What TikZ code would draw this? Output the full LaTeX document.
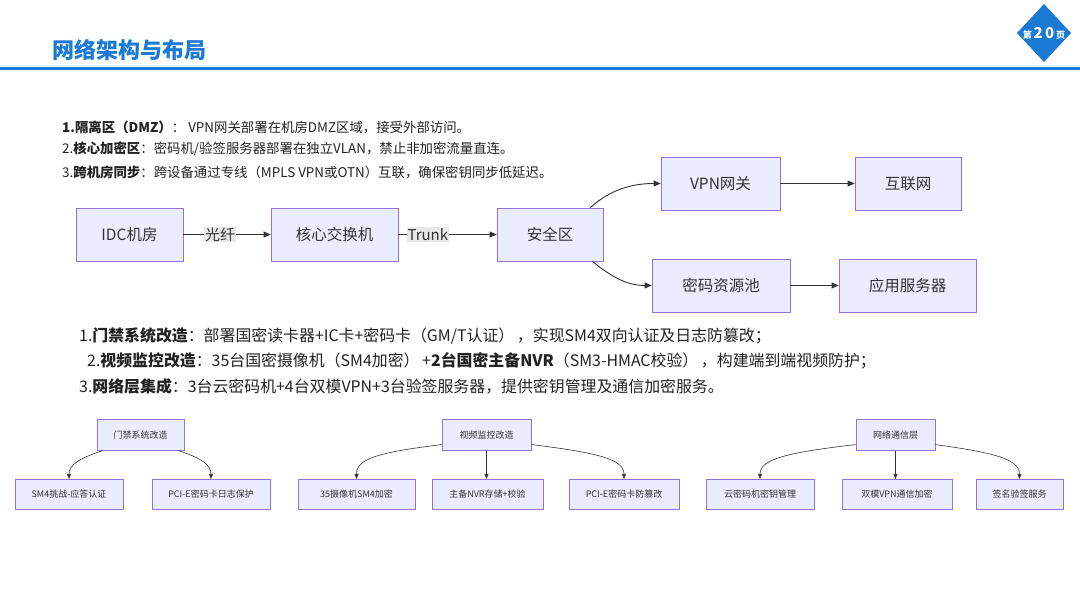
\documentclass[tikz,border=0pt]{standalone}
\usepackage{fontspec}
\setmainfont{Noto Sans CJK SC}
\usetikzlibrary{arrows.meta,calc}
\definecolor{boxfill}{HTML}{ECECFF}
\definecolor{boxdraw}{HTML}{9370DB}
\definecolor{txt}{HTML}{222222}
\definecolor{ln}{HTML}{333333}
\definecolor{hblue}{HTML}{1A7AD4}
\definecolor{hlight}{HTML}{D4E8F8}
\definecolor{lblbg}{HTML}{E8E8E8}
\newcommand{\fs}[1]{\fontsize{#1}{#1}\selectfont}
\tikzset{
  bigbox/.style={draw=boxdraw,fill=boxfill,line width=0.8pt,minimum height=53pt,inner sep=0pt,text=ln,font=\fs{15.5}},
  smallbox/.style={draw=boxdraw,fill=boxfill,line width=0.6pt,minimum height=30.5pt,inner sep=0pt,text=ln,font=\fs{9}},
  bigarrow/.style={draw=ln,line width=0.9pt,-{Triangle[length=7pt,width=6pt]}},
  smallarrow/.style={draw=ln,line width=0.6pt,-{Triangle[length=5pt,width=4pt]}},
  elabel/.style={fill=lblbg,inner sep=1pt,text=ln,font=\fs{15}},
  para/.style={anchor=west,inner sep=0pt,text=txt},
}
\begin{document}
\begin{tikzpicture}[x=1pt,y=-1pt]
\useasboundingbox (0,0) rectangle (1080,608);
\fill[white] (0,0) rectangle (1080,608);
% header
\node[anchor=west,inner sep=0pt,text=hblue,font=\fs{22}\bfseries] (title) at (52,50) {网络架构与布局};
\draw[hlight,line width=1pt] (0,65.5) -- (1080,65.5);
\draw[hblue,line width=3pt] (0,68.5) -- (1080,68.5);
\fill[hblue] (1044,4) -- (1071,33) -- (1044,62) -- (1017,33) -- cycle;
\node[text=white,inner sep=0pt] (pg) at (1044,33) {{\fs{9}\bfseries 第}\,{\fs{15}\bfseries 2\,0}\,{\fs{9}\bfseries 页}};
% first paragraph
\node[para,font=\fs{13.4}] (p1) at (62,127) {\textbf{1.隔离区（DMZ）}：\ VPN网关部署在机房DMZ区域，接受外部访问。};
\node[para,font=\fs{13.4}] (p2) at (62,149) {2.\textbf{核心加密区}：密码机/验签服务器部署在独立VLAN，禁止非加密流量直连。};
\node[para,font=\fs{13.4}] (p3) at (62,172) {3.\textbf{跨机房同步}：跨设备通过专线（MPLS VPN或OTN）互联，确保密钥同步低延迟。};
% flowchart
\node[bigbox,minimum width=107pt] (idc) at (129.5,234.5) {IDC机房};
\node[bigbox,minimum width=127pt] (core) at (334.5,234.5) {核心交换机};
\node[bigbox,minimum width=106pt] (sec) at (550,234.5) {安全区};
\node[bigbox,minimum width=119pt] (vpn) at (720.5,183.5) {VPN网关};
\node[bigbox,minimum width=106pt] (inet) at (908,183.5) {互联网};
\node[bigbox,minimum width=138pt] (pool) at (721,285.5) {密码资源池};
\node[bigbox,minimum width=137pt] (app) at (907.5,285.5) {应用服务器};
\draw[bigarrow] (idc.east) -- node[elabel,pos=0.42] (l1) {光纤} (core.west);
\draw[bigarrow] (core.east) -- node[elabel,pos=0.3] (l2) {Trunk} (sec.west);
\draw[bigarrow] ([xshift=-13pt]sec.north east) .. controls +(22,-20) and +(-25,0) .. (vpn.west);
\draw[bigarrow] ([xshift=-11pt]sec.south east) .. controls +(22,18) and +(-22,0) .. (pool.west);
\draw[bigarrow] (vpn.east) -- (inet.west);
\draw[bigarrow] (pool.east) -- (app.west);
% second paragraph
\node[para,font=\fs{15.9}] (q1) at (79,336) {1.\textbf{门禁系统改造}：部署国密读卡器+IC卡+密码卡（GM/T认证）\,，实现SM4双向认证及日志防篡改；};
\node[para,font=\fs{15.9}] (q2) at (87,361) {2.\textbf{视频监控改造}：35台国密摄像机（SM4加密）\,+\textbf{2台国密主备NVR}（SM3-HMAC校验）\,，构建端到端视频防护；};
\node[para,font=\fs{15.9}] (q3) at (79,386) {3.\textbf{网络层集成}：3台云密码机+4台双模VPN+3台验签服务器，提供密钥管理及通信加密服务。};
% tree 1
\node[smallbox,minimum width=87pt] (r1) at (140.5,435) {门禁系统改造};
\node[smallbox,minimum width=108pt] (c11) at (69,494.5) {SM4挑战-应答认证};
\node[smallbox,minimum width=118pt] (c12) at (211,494.5) {PCI-E密码卡日志保护};
\draw[smallarrow] ([xshift=6pt]r1.south west) .. controls +(-24,8) and +(0,-14) .. (c11.north);
\draw[smallarrow] ([xshift=-6pt]r1.south east) .. controls +(24,8) and +(0,-14) .. (c12.north);
% tree 2
\node[smallbox,minimum width=89pt] (r2) at (486.5,435) {视频监控改造};
\node[smallbox,minimum width=117pt] (c21) at (356.5,494.5) {35摄像机SM4加密};
\node[smallbox,minimum width=111pt] (c22) at (487.5,494.5) {主备NVR存储+校验};
\node[smallbox,minimum width=110pt] (c23) at (624,494.5) {PCI-E密码卡防篡改};
\draw[smallarrow] ([yshift=6pt]r2.south west) .. controls +(-65,8) and +(0,-20) .. (c21.north);
\draw[smallarrow] (r2.south) -- (r2.south |- c22.north);
\draw[smallarrow] ([yshift=6pt]r2.south east) .. controls +(65,8) and +(0,-20) .. (c23.north);
% tree 3
\node[smallbox,minimum width=79pt] (r3) at (895.5,435) {网络通信层};
\node[smallbox,minimum width=108pt] (c31) at (760,494.5) {云密码机密钥管理};
\node[smallbox,minimum width=110pt] (c32) at (897,494.5) {双模VPN通信加密};
\node[smallbox,minimum width=87pt] (c33) at (1019.5,494.5) {签名验签服务};
\draw[smallarrow] ([yshift=6pt]r3.south west) .. controls +(-68,8) and +(0,-20) .. (c31.north);
\draw[smallarrow] (r3.south) -- (r3.south |- c32.north);
\draw[smallarrow] ([yshift=6pt]r3.south east) .. controls +(58,8) and +(0,-20) .. (c33.north);
\end{tikzpicture}
\end{document}
